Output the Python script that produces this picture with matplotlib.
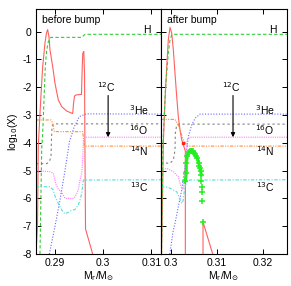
import matplotlib
matplotlib.use('Agg')
import matplotlib.pyplot as plt

plt.rcParams['font.family'] = ['Liberation Sans', 'DejaVu Sans']
plt.rcParams['font.size'] = 7.5

# ---- before bump (left panel) ----
red_l_x = [0.2860, 0.28631, 0.28648, 0.28698, 0.28739, 0.28787, 0.28818, 0.28843, 0.2887, 0.28891,
           0.28947, 0.28995, 0.29064, 0.29135, 0.29239, 0.29363, 0.2938, 0.29401, 0.29432, 0.29546,
           0.29563, 0.29573, 0.29594, 0.29609, 0.29619, 0.2963, 0.29779]
red_l_y = [-8.0, -7.0, -4.1, -2.46, -1.26, -0.41, -0.05, 0.07, -0.2, -0.66,
           -1.26, -1.86, -2.46, -2.70, -2.86, -2.95, -2.6, -2.32, -2.28, -2.26,
           -1.2, -0.78, -0.72, -1.5, -4.5, -7.1, -8.0]
h_l_x = [0.28683, 0.28719, 0.28739, 0.28766, 0.28793, 0.28823, 0.28856, 0.28906, 0.29551, 0.29619, 0.3120]
h_l_y = [-8.0, -4.2, -3.66, -2.46, -1.26, -0.66, -0.37, -0.21, -0.21, -0.1, -0.1]
he3_l_x = [0.28877, 0.28995, 0.29099, 0.29203, 0.29297, 0.29397, 0.29501, 0.2964, 0.3120]
he3_l_y = [-8.0, -7.0, -6.06, -5.0, -3.95, -3.42, -3.06, -2.96, -2.97]
o16_l_x = [0.2860, 0.28823, 0.28877, 0.28912, 0.28922, 0.28933, 0.28964, 0.3120]
o16_l_y = [-4.75, -4.75, -4.68, -4.5, -3.9, -3.4, -3.32, -3.32]
n14_l_x = [0.2860, 0.28912, 0.28947, 0.28981, 0.29571, 0.29605, 0.3120]
n14_l_y = [-3.18, -3.18, -3.3, -3.6, -3.6, -4.12, -4.12]
c12_l_x = [0.2860, 0.28891, 0.2896, 0.29016, 0.29064, 0.29135, 0.29203, 0.29376, 0.29411, 0.2948,
           0.29515, 0.29551, 0.29571, 0.29588, 0.3120]
c12_l_y = [-5.0, -5.04, -5.1, -5.5, -5.67, -5.78, -6.0, -6.0, -5.95, -5.7,
           -5.34, -5.1, -4.62, -3.8, -3.8]
c13_l_x = [0.2860, 0.28891, 0.2896, 0.28995, 0.29064, 0.29135, 0.29203, 0.29239, 0.29343, 0.29411,
           0.2948, 0.29515, 0.29551, 0.29584, 0.3120]
c13_l_y = [-5.58, -5.58, -5.7, -5.92, -6.18, -6.42, -6.56, -6.53, -6.43, -6.4,
           -6.24, -6.06, -5.82, -5.34, -5.33]

# ---- after bump (right panel) ----
red_r_x = [0.29801, 0.29823, 0.2984, 0.29877, 0.29914, 0.29948, 0.29985, 0.30022, 0.30057, 0.30093,
           0.3013, 0.30165, 0.30202, 0.30239, 0.30273, 0.30299, 0.30317, 0.30317, 0.30700, 0.30700, 0.30910]
red_r_y = [-8.0, -6.0, -4.02, -2.46, -1.26, -0.3, 0.15, -0.06, -0.66, -1.5,
           -2.34, -3.06, -3.54, -3.9, -4.08, -4.2, -4.3, -9.0, -9.0, -6.85, -8.0]
h_r_x = [0.29801, 0.29833, 0.29888, 0.29948, 0.29985, 0.30022, 0.30057, 0.3252]
h_r_y = [-8.0, -4.0, -2.0, -0.78, -0.3, -0.12, -0.1, -0.1]
pts_r_x = [0.30317, 0.30338, 0.30338, 0.3036, 0.3039, 0.30412, 0.30434, 0.30461, 0.30483, 0.30505,
           0.30533, 0.30555, 0.30577, 0.30607, 0.30621, 0.30635, 0.3065, 0.30663, 0.30663, 0.30678,
           0.30678, 0.30685, 0.30700]
pts_r_y = [-5.39, -5.09, -4.73, -4.49, -4.33, -4.30, -4.29, -4.29, -4.31, -4.35,
           -4.41, -4.48, -4.55, -4.73, -4.82, -4.91, -5.03, -5.17, -5.37, -5.60,
           -5.77, -6.08, -6.85]
he3_r_x = [0.2998, 0.30057, 0.30093, 0.30165, 0.30239, 0.3031, 0.30347, 0.30382, 0.30455, 0.30527, 0.30635, 0.3252]
he3_r_y = [-8.0, -7.14, -6.9, -6.3, -5.7, -4.86, -4.26, -3.78, -3.36, -3.12, -2.97, -2.97]
o16_r_x = [0.2979, 0.29914, 0.29985, 0.30057, 0.30093, 0.3010, 0.3013, 0.30165, 0.3252]
o16_r_y = [-4.75, -4.73, -4.74, -4.62, -4.26, -3.66, -3.36, -3.33, -3.33]
n14_r_x = [0.2979, 0.30093, 0.30165, 0.30202, 0.30273, 0.30347, 0.30375, 0.3252]
n14_r_y = [-3.16, -3.16, -3.36, -3.54, -3.9, -4.08, -4.12, -4.12]
c12_r_x = [0.2979, 0.29914, 0.30057, 0.30165, 0.30202, 0.30239, 0.30273, 0.3031, 0.30332, 0.3036, 0.30418, 0.3252]
c12_r_y = [-5.0, -4.92, -5.04, -5.22, -5.46, -5.64, -5.68, -4.86, -4.26, -3.88, -3.8, -3.8]
c13_r_x = [0.2979, 0.29942, 0.30057, 0.3013, 0.30165, 0.30202, 0.30239, 0.30267, 0.30288, 0.3031, 0.30347, 0.30418, 0.3252]
c13_r_y = [-5.58, -5.6, -5.7, -5.76, -5.88, -6.06, -6.18, -6.1, -5.82, -5.58, -5.4, -5.34, -5.33]

left_xlim = (0.2860, 0.3120)
right_xlim = (0.2979, 0.3252)
left_xticks = [0.29, 0.30, 0.31]
left_xlabels = ['0.29', '0.3', '0.31']
right_xticks = [0.30, 0.31, 0.32]
right_xlabels = ['0.3', '0.31', '0.32']
yticks = [0, -1, -2, -3, -4, -5, -6, -7, -8]
ylabels = ['0', '-1', '-2', '-3', '-4', '-5', '-6', '-7', '-8']

RED = '#ff6060'
GREEN = '#33cc33'
BLUE = '#6868ff'
PINK = '#ff7cff'
CYAN = '#50dede'
GRAY = '#808080'
ORANGE = '#ff8c40'

fig = plt.figure(figsize=(2.91, 2.86), dpi=100)
axl = fig.add_axes([0.1237, 0.1119, 0.4296, 0.8556])
axr = fig.add_axes([0.5533, 0.1119, 0.4330, 0.8556])

lw = 0.8
def draw(ax, red, h, he3, o16, n14, c12, c13):
    ax.plot(*red, color=RED, lw=lw)
    ax.plot(*h, color=GREEN, lw=lw, dashes=(3, 2))
    ax.plot(*he3, color=BLUE, lw=lw, dashes=(1, 1.5))
    ax.plot(*o16, color=GRAY, lw=lw, dashes=(2, 2.5))
    ax.plot(*n14, color=ORANGE, lw=lw, dashes=(3, 1.2, 1, 1.2, 1, 1.2))
    ax.plot(*c12, color=PINK, lw=lw, dashes=(1, 1))
    ax.plot(*c13, color=CYAN, lw=lw, dashes=(3, 1.5, 1, 1.5))

draw(axl, (red_l_x, red_l_y), (h_l_x, h_l_y), (he3_l_x, he3_l_y), (o16_l_x, o16_l_y),
     (n14_l_x, n14_l_y), (c12_l_x, c12_l_y), (c13_l_x, c13_l_y))
draw(axr, (red_r_x, red_r_y), (h_r_x, h_r_y), (he3_r_x, he3_r_y), (o16_r_x, o16_r_y),
     (n14_r_x, n14_r_y), (c12_r_x, c12_r_y), (c13_r_x, c13_r_y))
# green points, drawn dense along the arc
axr.plot(pts_r_x[:-5], pts_r_y[:-5], color='#22ee22', lw=2.2, solid_capstyle='round')
axr.plot(pts_r_x, pts_r_y, ls='none', marker='+', ms=4.5, mew=1.1, color='#22ee22')
axr.plot([0.30273], [-4.02], ls='none', marker='s', ms=2, color='#ff2020')

for ax, xl, xt, xtl, arrow_x, title in [
        (axl, left_xlim, left_xticks, left_xlabels, 0.3010, 'before bump'),
        (axr, right_xlim, right_xticks, right_xlabels, 0.3135, 'after bump')]:
    ax.set_xlim(*xl)
    ax.set_ylim(-8, 0.8)
    ax.set_xticks(xt)
    ax.set_xticklabels(xtl)
    ax.set_yticks(yticks)
    ax.tick_params(direction='in', length=3.5, width=0.7, top=True, right=True, pad=3)
    for s in ax.spines.values():
        s.set_linewidth(0.8)
    ax.set_xlabel(r'M$_{\rm r}$/M$_{\odot}$', labelpad=1)
    ax.text(0.05, 0.955, title, transform=ax.transAxes, ha='left', va='center')
    tr = ax.get_yaxis_transform()
    ax.text(0.915, 0.07, 'H', transform=tr, ha='right', va='center')
    ax.text(0.90, -2.82, r'$^{3}$He', transform=tr, ha='right', va='center')
    ax.text(0.90, -3.56, r'$^{16}$O', transform=tr, ha='right', va='center')
    ax.text(0.90, -4.31, r'$^{14}$N', transform=tr, ha='right', va='center')
    ax.text(0.90, -5.58, r'$^{13}$C', transform=tr, ha='right', va='center')
    ax.text(arrow_x - 0.0003, -2.0, r'$^{12}$C', ha='center', va='center')
    ax.annotate('', xy=(arrow_x, -3.8), xytext=(arrow_x, -2.3),
                arrowprops=dict(arrowstyle='-|>', color='black', lw=0.8,
                                mutation_scale=6, shrinkA=0, shrinkB=0))

axl.set_yticklabels(ylabels)
axl.set_ylabel(r'log$_{10}$(X)', labelpad=2)
axr.set_yticklabels([])

fig.savefig('out.png', dpi=100)
